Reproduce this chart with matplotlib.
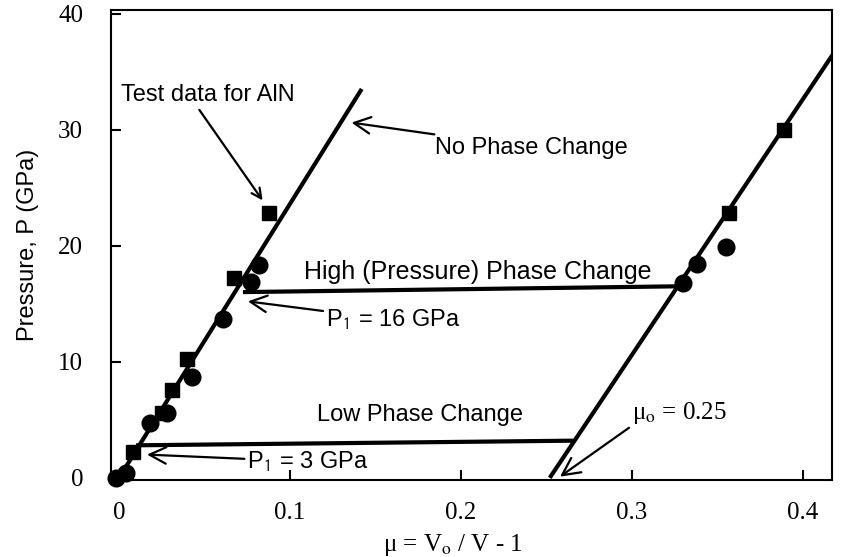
import matplotlib
matplotlib.use("Agg")
import matplotlib.pyplot as plt

# Test data for AlN
square_x = [0.008, 0.025, 0.031, 0.040, 0.067, 0.088, 0.357, 0.389]
square_y = [2.2, 5.6, 7.6, 10.2, 17.2, 22.8, 22.8, 30.0]
circle_x = [-0.002, 0.004, 0.018, 0.028, 0.043, 0.061, 0.077, 0.082, 0.330, 0.338, 0.355]
circle_y = [0.0, 0.4, 4.7, 5.6, 8.7, 13.7, 16.9, 18.3, 16.8, 18.4, 19.9]

# Model lines
no_change_x = [0.0, 0.142]
no_change_y = [0.0, 33.5]
shifted_x = [0.252, 0.42]
shifted_y = [0.0, 37.0]
high_x = [0.0725, 0.328]
high_y = [16.0, 16.5]
low_x = [0.010, 0.266]
low_y = [2.8, 3.2]

x_ticks = [0, 0.1, 0.2, 0.3, 0.4]
x_labels = ["0", "0.1", "0.2", "0.3", "0.4"]
y_ticks = [0, 10, 20, 30, 40]

plt.rcParams['mathtext.fontset'] = 'stix'
SANS = 'Liberation Sans'
SERIF = 'Liberation Serif'

fig = plt.figure(figsize=(8.49, 5.57), dpi=100)
ax = fig.add_axes([0.1307, 0.138, 0.849, 0.844])

lw = 3.0
ax.plot(no_change_x, no_change_y, color='black', lw=lw, solid_capstyle='butt')
ax.plot(shifted_x, shifted_y, color='black', lw=lw, solid_capstyle='butt')
ax.plot(high_x, high_y, color='black', lw=lw, solid_capstyle='butt')
ax.plot(low_x, low_y, color='black', lw=lw, solid_capstyle='butt')

ax.plot(square_x, square_y, 's', color='black', ms=10, clip_on=False)
ax.plot(circle_x, circle_y, 'o', color='black', ms=12, clip_on=False)

ax.set_xlim(-0.0047, 0.417)
ax.set_ylim(-0.2, 40.3)
ax.set_xticks(x_ticks)
ax.set_xticklabels(x_labels)
ax.set_yticks(y_ticks)
ax.tick_params(direction='in', length=7, width=1.5, labelsize=18)
ax.tick_params(axis='x', pad=16)
ax.tick_params(axis='y', pad=20)
for lab in ax.get_xticklabels() + ax.get_yticklabels():
    lab.set_family(SERIF)
for sp in ax.spines.values():
    sp.set_linewidth(1.5)

ax.set_ylabel("Pressure, P (GPa)", family=SANS, fontsize=17, labelpad=14)
ax.set_xlabel(r"μ = V$_{\mathrm{o}}$ / V - 1", family=SERIF, fontsize=18, va='center')
ax.xaxis.set_label_coords(0.474, -0.138)

arrow = dict(arrowstyle='->,head_length=0.7,head_width=0.35', color='black', lw=1.6,
             shrinkA=0, shrinkB=0)
fs = 17

ax.text(0.001, 32.0, "Test data for AlN", family=SANS, fontsize=fs, va='bottom')
ax.annotate("", xy=(0.084, 23.9), xytext=(0.047, 31.7), arrowprops=arrow)

ax.annotate("No Phase Change", xy=(0.136, 30.6), xytext=(0.185, 28.4),
            family=SANS, fontsize=fs, va='center', ha='left', arrowprops=arrow)

ax.text(0.21, 17.7, "High (Pressure) Phase Change", family=SANS, fontsize=18,
        ha='center', va='center')

ax.annotate(r"P$_{\mathsf{1}}$ = 16 GPa", xy=(0.0754, 15.2), xytext=(0.121, 13.6),
            family=SANS, fontsize=fs, va='center', ha='left', arrowprops=arrow)

ax.text(0.176, 5.4, "Low Phase Change", family=SANS, fontsize=fs,
        ha='center', va='center')

ax.annotate(r"P$_{\mathsf{1}}$ = 3 GPa", xy=(0.0164, 2.0), xytext=(0.075, 1.4),
            family=SANS, fontsize=fs, va='center', ha='left', arrowprops=arrow)

ax.annotate(r"μ$_{\mathrm{o}}$ = 0.25", xy=(0.258, 0.1), xytext=(0.300, 5.6),
            family=SERIF, fontsize=18, va='center', ha='left',
            arrowprops=dict(arrow, relpos=(0.0, 0.0)))

fig.savefig("out.png", dpi=100)
